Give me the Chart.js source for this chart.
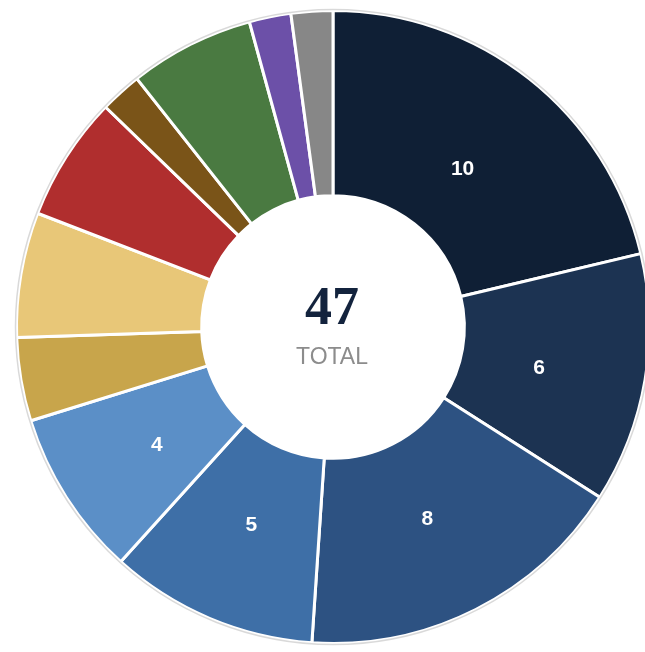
<!DOCTYPE html>
<html>
<head>
<meta charset="utf-8">
<script src="https://cdn.jsdelivr.net/npm/chart.js@4/dist/chart.umd.min.js"></script>
<style>
  html, body { margin: 0; padding: 0; background: #fff; overflow: hidden; }
  #wrap { width: 666px; height: 652px; position: relative; }
</style>
</head>
<body>
<div id="wrap"><canvas id="myChart"></canvas></div>
<script>
// chart data
const categories = ['A', 'B', 'C', 'D', 'E', 'F', 'G', 'H', 'I', 'J', 'K', 'L'];
const counts = [10, 6, 8, 5, 4, 2, 3, 3, 1, 3, 1, 1];
const sliceColors = [
  '#0f1f35', '#1c3352', '#2d5282', '#3e6fa7', '#5b8fc7',
  '#c8a54b', '#e8c778', '#b02e2e', '#7a5418', '#4a7a41',
  '#6c50a8', '#878787'
];
const centerLabel = 'TOTAL';

// white numbers inside the bigger slices
const sliceLabels = {
  id: 'sliceLabels',
  afterDatasetsDraw(chart) {
    const ctx = chart.ctx;
    const meta = chart.getDatasetMeta(0);
    ctx.save();
    ctx.fillStyle = '#fff';
    ctx.font = 'bold 21px "Liberation Sans", Arial, sans-serif';
    ctx.textAlign = 'center';
    ctx.textBaseline = 'middle';
    meta.data.forEach((arc, i) => {
      if (counts[i] < 4) return;
      const mid = (arc.startAngle + arc.endAngle) / 2;
      const r = arc.innerRadius + 0.42 * (arc.outerRadius - arc.innerRadius);
      ctx.fillText(counts[i], arc.x + r * Math.cos(mid), arc.y + r * Math.sin(mid) + 6);
    });
    ctx.restore();
  }
};

// total in the hole + thin grey rim
const centerText = {
  id: 'centerText',
  afterDraw(chart) {
    const ctx = chart.ctx;
    const arc = chart.getDatasetMeta(0).data[0];
    const total = counts.reduce((a, b) => a + b, 0);
    ctx.save();
    ctx.beginPath();
    ctx.arc(arc.x, arc.y, arc.outerRadius + 1, 0, Math.PI * 2);
    ctx.strokeStyle = 'rgba(0,0,0,0.15)';
    ctx.lineWidth = 1.5;
    ctx.stroke();

    ctx.textAlign = 'center';
    ctx.textBaseline = 'middle';
    ctx.fillStyle = '#13233d';
    ctx.font = 'bold 54px "Liberation Serif", "DejaVu Serif", serif';
    ctx.fillText(total, arc.x - 1, arc.y - 17);
    ctx.fillStyle = '#8c8c8c';
    ctx.font = '23px "Liberation Sans", Arial, sans-serif';
    ctx.fillText(centerLabel, arc.x - 1, arc.y + 31);
    ctx.restore();
  }
};

let ctx = document.getElementById('myChart').getContext('2d');
let myChart = new Chart(ctx, {
  type: 'doughnut',
  data: {
    labels: categories,
    datasets: [
      {
        data: counts,
        backgroundColor: sliceColors,
        borderColor: '#fff',
        borderWidth: 3,
      },
    ],
  },
  options: {
    responsive: true,
    maintainAspectRatio: false,
    animation: false,
    cutout: '41.5%',
    layout: { padding: { left: 15, right: 15, top: 9, bottom: 7 } },
    plugins: {
      legend: { display: false },
      tooltip: { enabled: false },
    },
  },
  plugins: [sliceLabels, centerText],
});
</script>
</body>
</html>
